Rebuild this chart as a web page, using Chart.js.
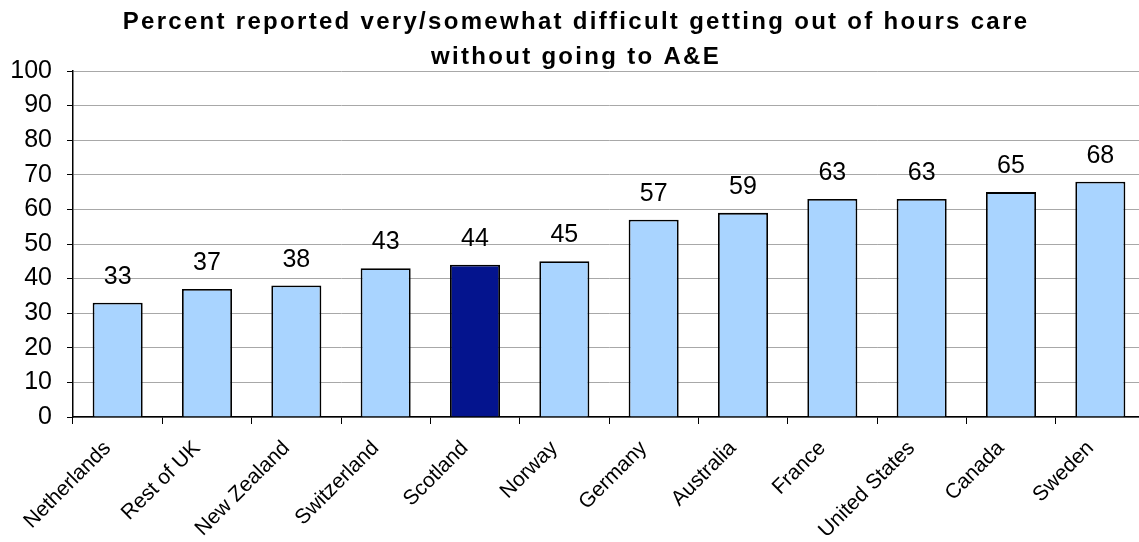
<!DOCTYPE html>
<html>
<head>
<meta charset="utf-8">
<script src="https://cdn.jsdelivr.net/npm/chart.js@4"></script>
<style>
    html, body { margin: 0; padding: 0; background: #fff; overflow: hidden; }
    #wrap { width: 1146px; height: 542px; position: relative; }
</style>
</head>
<body>
<div id="wrap"><canvas id="graficoPaises"></canvas></div>
<script>
const paises = ['Netherlands', 'Rest of UK', 'New Zealand', 'Switzerland', 'Scotland', 'Norway',
    'Germany', 'Australia', 'France', 'United States', 'Canada', 'Sweden'];
const percentuais = [33, 37, 38, 43, 44, 45, 57, 59, 63, 63, 65, 68];
const ticksY = [0, 10, 20, 30, 40, 50, 60, 70, 80, 90, 100];
const titulo = ['Percent reported very/somewhat difficult getting out of hours care', 'without going to A&E'];
const destaque = 'Scotland';

const FONTE = '"Liberation Sans", Arial, sans-serif';

// Titulo em duas linhas, letras espaçadas
const tituloEspacado = {
    id: 'tituloEspacado',
    afterDraw(chart) {
        const ctx = chart.ctx;
        ctx.save();
        ctx.font = 'bold 24px ' + FONTE;
        ctx.fillStyle = '#000';
        ctx.textAlign = 'center';
        ctx.textBaseline = 'alphabetic';
        if ('letterSpacing' in ctx) ctx.letterSpacing = '2.3px';
        ctx.fillText(titulo[0], 576, 29);
        ctx.fillText(titulo[1], 576, 64);
        ctx.restore();
    }
};

// Escreve o valor por cima de cada barra
const rotulosValores = {
    id: 'rotulosValores',
    afterDatasetsDraw(chart) {
        const ctx = chart.ctx;
        const meta = chart.getDatasetMeta(0);
        ctx.save();
        ctx.font = '25px ' + FONTE;
        ctx.fillStyle = '#000';
        ctx.textAlign = 'center';
        ctx.textBaseline = 'alphabetic';
        meta.data.forEach((barra, i) => {
            ctx.fillText(String(percentuais[i]), barra.x, barra.y - 19);
        });
        ctx.restore();
    }
};

const cores = paises.map(p => p === destaque ? '#04148e' : '#a9d4ff');

new Chart(document.getElementById('graficoPaises'), {
    type: 'bar',
    data: {
        labels: paises,
        datasets: [{
            data: percentuais,
            backgroundColor: cores,
            borderColor: '#000',
            borderWidth: 1.8,
            barPercentage: 0.56,
            categoryPercentage: 1
        }]
    },
    plugins: [rotulosValores, tituloEspacado],
    options: {
        responsive: true,
        maintainAspectRatio: false,
        animation: false,
        layout: { padding: { top: 71, right: 1, left: 0, bottom: 0 } },
        plugins: {
            legend: { display: false },
            tooltip: { enabled: false },
            title: { display: false }
        },
        scales: {
            y: {
                min: 0,
                max: 100,
                afterBuildTicks: scale => { scale.ticks = ticksY.map(v => ({ value: v })); },
                afterFit: scale => { scale.width = 73; },
                ticks: {
                    color: '#000',
                    font: { family: FONTE, size: 25 },
                    padding: 15
                },
                grid: {
                    color: '#a8a8a8',
                    lineWidth: 1,
                    tickColor: '#000',
                    tickLength: 6
                },
                border: { color: '#000', width: 1.5 }
            },
            x: {
                afterFit: scale => { scale.height = 125; },
                ticks: {
                    color: '#000',
                    font: { family: FONTE, size: 21 },
                    minRotation: 45,
                    maxRotation: 45,
                    padding: 12,
                    labelOffset: -10
                },
                grid: {
                    drawOnChartArea: false,
                    offset: true,
                    tickColor: '#000',
                    tickLength: 7
                },
                border: { color: '#000', width: 1.5 }
            }
        }
    }
});
</script>
</body>
</html>
